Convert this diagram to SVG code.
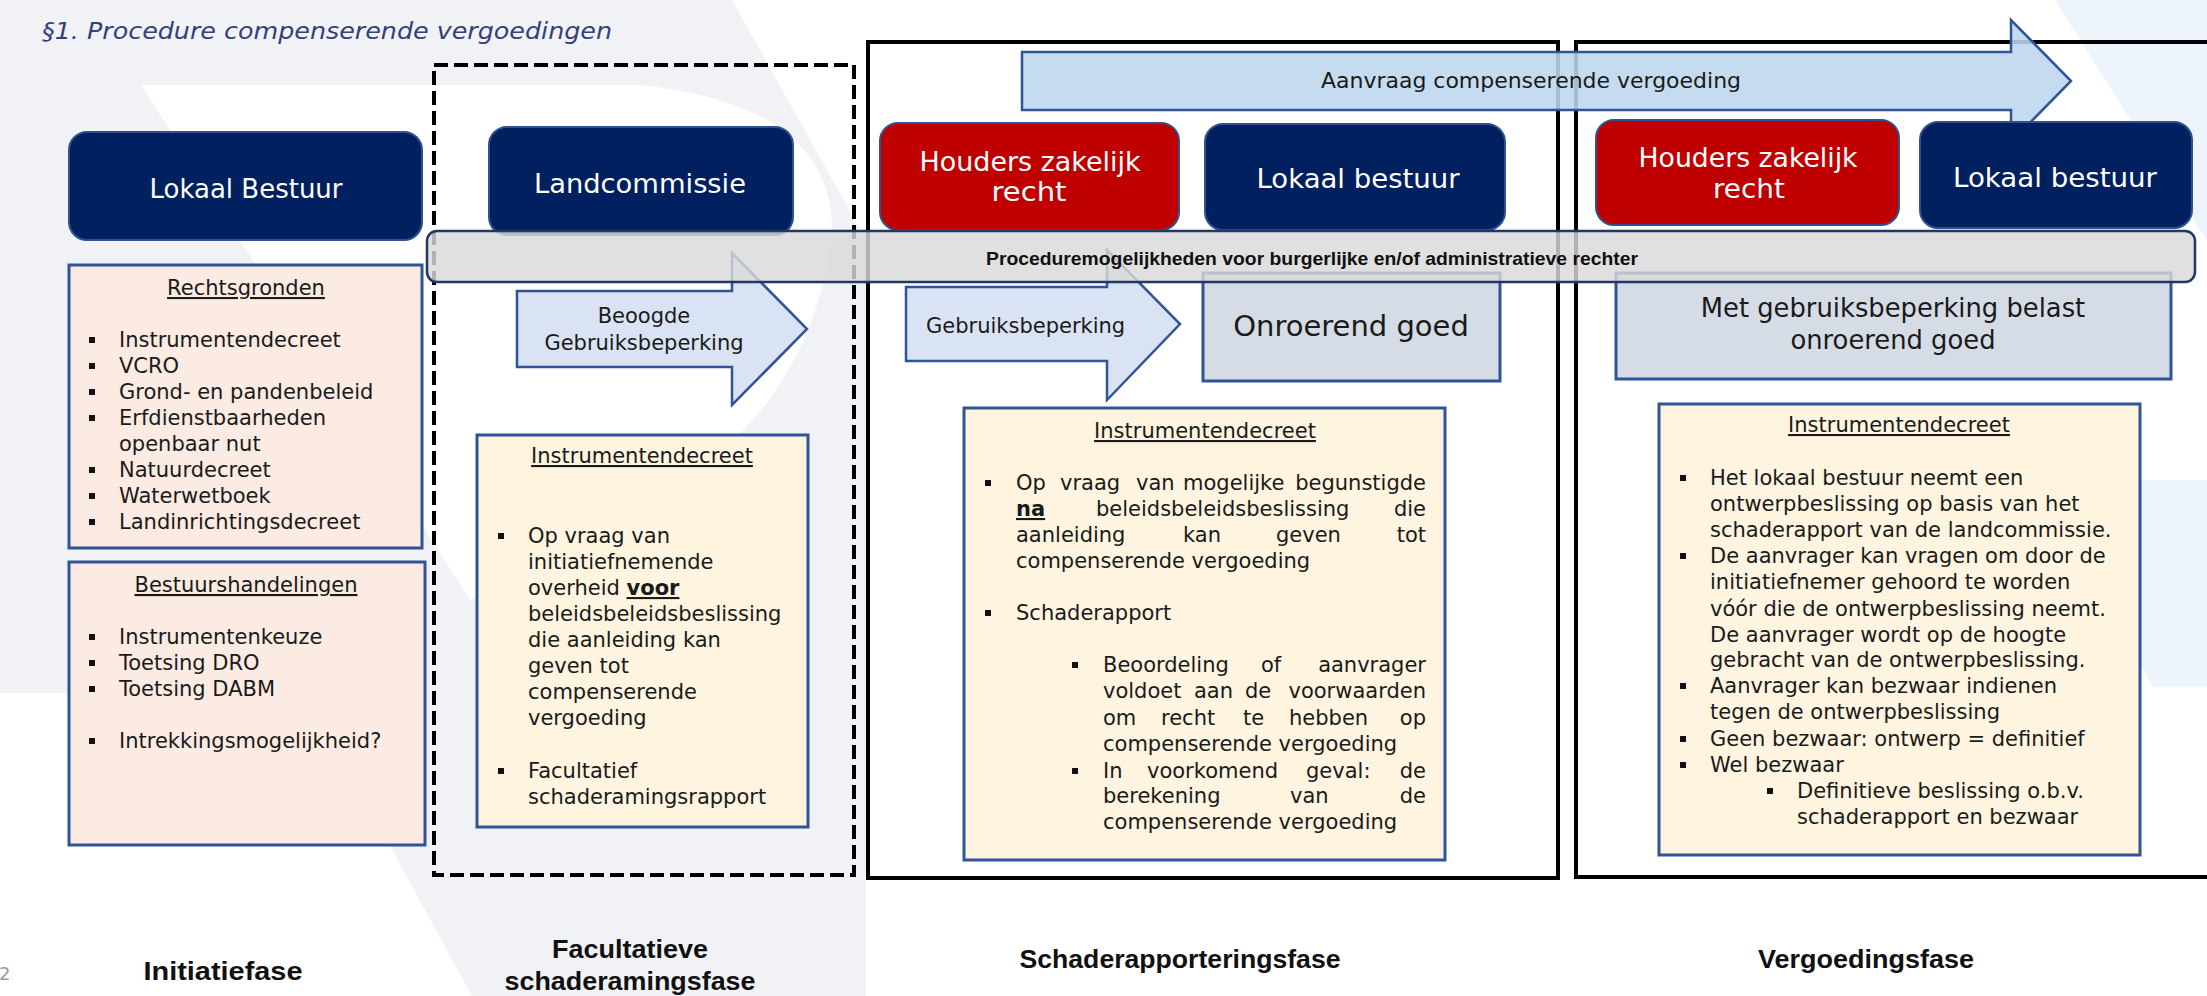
<svg xmlns="http://www.w3.org/2000/svg" width="2207" height="996" viewBox="0 0 2207 996">
<defs>
<style>
.t{font-family:"DejaVu Sans",sans-serif;font-size:21px;fill:#1a1a1a}
.h{font-family:"DejaVu Sans",sans-serif;font-size:21px;fill:#1a1a1a;text-anchor:middle;text-decoration:underline}
.w{font-family:"DejaVu Sans",sans-serif;font-size:26px;fill:#ffffff;text-anchor:middle}
.nv{fill:#002060;stroke:#2f528f;stroke-width:2}
.rd{fill:#c00000;stroke:#2f528f;stroke-width:2}
.pk{fill:#fbebe2;stroke:#2f5597;stroke-width:3}
.cr{fill:#fef4df;stroke:#2f5597;stroke-width:3}
.og{fill:#d6dce5;stroke:#2f5597;stroke-width:3}
.ar{fill:#dae3f3;stroke:#2f5597;stroke-width:2.5}
.ph{font-family:"Liberation Sans",Arial,sans-serif;font-weight:bold;font-size:25px;fill:#111;text-anchor:middle}
.b{fill:#111}
.e{text-anchor:end}
.m{text-anchor:middle}
.bo{font-weight:bold;text-decoration:underline}
.frame{fill:none;stroke:#000;stroke-width:4}
</style>
<clipPath id="pc"><rect x="0" y="950" width="12" height="46"/></clipPath>
</defs>

<g id="watermark">
<rect x="0" y="0" width="2207" height="996" fill="#ffffff"/>
<path d="M0,0 H732 L866,240 V996 H472 L306,693 H0 Z" fill="#f1f2f6"/>
<path d="M141,85 H640 Q835,105 832,235 Q815,380 700,470 Q600,555 470,600 Z" fill="#ffffff"/>
<path d="M2055,0 H2207 V241 Z" fill="#edf4fc"/>
<path d="M2033,480 H2207 V687 H2153 Z" fill="#edf4fc"/>
</g>

<text id="title" x="42" y="39" font-family="DejaVu Sans, sans-serif" font-style="italic" font-size="23" fill="#34407a" textLength="570" lengthAdjust="spacingAndGlyphs">§1. Procedure compenserende vergoedingen</text>

<g id="panels">
<rect class="frame" x="434" y="65" width="420" height="810" stroke-dasharray="14 6"/>
<rect class="frame" x="868" y="42" width="690" height="836"/>
<path class="frame" d="M2212,42 H1576 V877 H2212"/>
</g>

<g id="connectors">
<g id="arrow-aanvraag">
<polygon points="1022,52 2011,52 2011,20 2071,81 2011,142 2011,110 1022,110" fill="#bdd7ee" fill-opacity="0.88" stroke="#2f5597" stroke-width="2.5"/>
<text class="t m" x="1531" y="88" style="font-size:22px" textLength="420" lengthAdjust="spacingAndGlyphs">Aanvraag compenserende vergoeding</text>
</g>
<g id="arrow-beoogde">
<polygon class="ar" points="517,291 732,291 732,253 807,329 732,405 732,367 517,367"/>
<text class="t m" x="644" y="323">Beoogde</text>
<text class="t m" x="644" y="350">Gebruiksbeperking</text>
</g>
<g id="arrow-gebruik">
<polygon class="ar" points="906,287 1107,287 1107,250 1180,324 1107,400 1107,361 906,361"/>
<text class="t" x="926" y="333">Gebruiksbeperking</text>
</g>
</g>

<g id="node-lokaal-bestuur-1">
<rect class="nv" x="69" y="132" width="353" height="108" rx="18"/>
<text class="w" x="246" y="198" textLength="193" lengthAdjust="spacingAndGlyphs">Lokaal Bestuur</text>
</g>
<g id="node-landcommissie">
<rect class="nv" x="489" y="127" width="304" height="108" rx="18"/>
<text class="w" x="640" y="193" textLength="212" lengthAdjust="spacingAndGlyphs">Landcommissie</text>
</g>
<g id="node-houders-3">
<rect class="rd" x="880" y="123" width="299" height="107" rx="18"/>
<text class="w" x="1030" y="171" textLength="221" lengthAdjust="spacingAndGlyphs">Houders zakelijk</text>
<text class="w" x="1029" y="201" textLength="75" lengthAdjust="spacingAndGlyphs">recht</text>
</g>
<g id="node-lokaal-bestuur-3">
<rect class="nv" x="1205" y="124" width="300" height="106" rx="18"/>
<text class="w" x="1358" y="188" textLength="203" lengthAdjust="spacingAndGlyphs">Lokaal bestuur</text>
</g>
<g id="node-houders-4">
<rect class="rd" x="1596" y="120" width="303" height="105" rx="18"/>
<text class="w" x="1748" y="167" textLength="219" lengthAdjust="spacingAndGlyphs">Houders zakelijk</text>
<text class="w" x="1749" y="198" textLength="72" lengthAdjust="spacingAndGlyphs">recht</text>
</g>
<g id="node-lokaal-bestuur-4">
<rect class="nv" x="1920" y="122" width="272" height="106" rx="18"/>
<text class="w" x="2055" y="187" textLength="204" lengthAdjust="spacingAndGlyphs">Lokaal bestuur</text>
</g>

<g id="node-onroerend-goed">
<rect class="og" x="1203" y="273" width="297" height="108"/>
<text class="t m" x="1351" y="336" style="font-size:29px">Onroerend goed</text>
</g>
<g id="node-belast-onroerend-goed">
<rect class="og" x="1616" y="273" width="555" height="106"/>
<text class="t m" x="1893" y="317" style="font-size:25.8px">Met gebruiksbeperking belast</text>
<text class="t m" x="1893" y="349" style="font-size:25.8px">onroerend goed</text>
</g>

<g id="node-rechtsgronden">
<rect class="pk" x="69" y="265" width="353" height="283"/>
<text class="h" x="246" y="295">Rechtsgronden</text>
<rect class="b" x="89" y="337" width="6" height="6"/>
<rect class="b" x="89" y="363" width="6" height="6"/>
<rect class="b" x="89" y="389" width="6" height="6"/>
<rect class="b" x="89" y="415" width="6" height="6"/>
<rect class="b" x="89" y="467" width="6" height="6"/>
<rect class="b" x="89" y="493" width="6" height="6"/>
<rect class="b" x="89" y="519" width="6" height="6"/>
<text class="t" x="119" y="347">Instrumentendecreet</text>
<text class="t" x="119" y="373">VCRO</text>
<text class="t" x="119" y="399">Grond- en pandenbeleid</text>
<text class="t" x="119" y="425">Erfdienstbaarheden</text>
<text class="t" x="119" y="451">openbaar nut</text>
<text class="t" x="119" y="477">Natuurdecreet</text>
<text class="t" x="119" y="503">Waterwetboek</text>
<text class="t" x="119" y="529">Landinrichtingsdecreet</text>
</g>

<g id="node-bestuurshandelingen">
<rect class="pk" x="69" y="562" width="356" height="283"/>
<text class="h" x="246" y="592">Bestuurshandelingen</text>
<rect class="b" x="89" y="634" width="6" height="6"/>
<rect class="b" x="89" y="660" width="6" height="6"/>
<rect class="b" x="89" y="686" width="6" height="6"/>
<rect class="b" x="89" y="738" width="6" height="6"/>
<text class="t" x="119" y="644">Instrumentenkeuze</text>
<text class="t" x="119" y="670">Toetsing DRO</text>
<text class="t" x="119" y="696">Toetsing DABM</text>
<text class="t" x="119" y="748">Intrekkingsmogelijkheid?</text>
</g>

<g id="node-instrumentendecreet-2">
<rect class="cr" x="477" y="435" width="331" height="392"/>
<text class="h" x="642" y="463">Instrumentendecreet</text>
<rect class="b" x="498" y="533" width="6" height="6"/>
<rect class="b" x="498" y="768" width="6" height="6"/>
<text class="t" x="528" y="543">Op vraag van</text>
<text class="t" x="528" y="569">initiatiefnemende</text>
<text class="t" x="528" y="595">overheid <tspan class="bo">voor</tspan></text>
<text class="t" x="528" y="621">beleidsbeleidsbeslissing</text>
<text class="t" x="528" y="647">die aanleiding kan</text>
<text class="t" x="528" y="673">geven tot</text>
<text class="t" x="528" y="699">compenserende</text>
<text class="t" x="528" y="725">vergoeding</text>
<text class="t" x="528" y="778">Facultatief</text>
<text class="t" x="528" y="804">schaderamingsrapport</text>
</g>

<g id="node-instrumentendecreet-3">
<rect class="cr" x="964" y="408" width="481" height="452"/>
<text class="h" x="1205" y="438">Instrumentendecreet</text>
<rect class="b" x="985" y="480" width="6" height="6"/>
<rect class="b" x="985" y="610" width="6" height="6"/>
<rect class="b" x="1072" y="662" width="6" height="6"/>
<rect class="b" x="1072" y="768" width="6" height="6"/>
<text class="t" y="490"><tspan x="1016">Op</tspan><tspan x="1060">vraag</tspan><tspan x="1136">van</tspan><tspan x="1183">mogelijke</tspan></text>
<text class="t e" x="1426" y="490">begunstigde</text>
<text class="t" y="516"><tspan x="1016" class="bo">na</tspan><tspan x="1096">beleidsbeleidsbeslissing</tspan></text>
<text class="t e" x="1426" y="516">die</text>
<text class="t" y="542"><tspan x="1016">aanleiding</tspan><tspan x="1183">kan</tspan><tspan x="1276">geven</tspan></text>
<text class="t e" x="1426" y="542">tot</text>
<text class="t" x="1016" y="568">compenserende vergoeding</text>
<text class="t" x="1016" y="620">Schaderapport</text>
<text class="t" y="672"><tspan x="1103">Beoordeling</tspan><tspan x="1261">of</tspan></text>
<text class="t e" x="1426" y="672">aanvrager</text>
<text class="t" y="698"><tspan x="1103">voldoet</tspan><tspan x="1194">aan</tspan><tspan x="1245">de</tspan></text>
<text class="t e" x="1426" y="698">voorwaarden</text>
<text class="t" y="725"><tspan x="1103">om</tspan><tspan x="1161">recht</tspan><tspan x="1243">te</tspan><tspan x="1289">hebben</tspan></text>
<text class="t e" x="1426" y="725">op</text>
<text class="t" x="1103" y="751">compenserende vergoeding</text>
<text class="t" y="778"><tspan x="1103">In</tspan><tspan x="1147">voorkomend</tspan><tspan x="1306">geval:</tspan></text>
<text class="t e" x="1426" y="778">de</text>
<text class="t" y="803"><tspan x="1103">berekening</tspan><tspan x="1290">van</tspan></text>
<text class="t e" x="1426" y="803">de</text>
<text class="t" x="1103" y="829">compenserende vergoeding</text>
</g>

<g id="node-instrumentendecreet-4">
<rect class="cr" x="1659" y="404" width="481" height="451"/>
<text class="h" x="1899" y="432">Instrumentendecreet</text>
<rect class="b" x="1680" y="475" width="6" height="6"/>
<rect class="b" x="1680" y="553" width="6" height="6"/>
<rect class="b" x="1680" y="683" width="6" height="6"/>
<rect class="b" x="1680" y="736" width="6" height="6"/>
<rect class="b" x="1680" y="762" width="6" height="6"/>
<rect class="b" x="1767" y="788" width="6" height="6"/>
<text class="t" x="1710" y="485">Het lokaal bestuur neemt een</text>
<text class="t" x="1710" y="511">ontwerpbeslissing op basis van het</text>
<text class="t" x="1710" y="537">schaderapport van de landcommissie.</text>
<text class="t" x="1710" y="563">De aanvrager kan vragen om door de</text>
<text class="t" x="1710" y="589">initiatiefnemer gehoord te worden</text>
<text class="t" x="1710" y="616">vóór die de ontwerpbeslissing neemt.</text>
<text class="t" x="1710" y="642">De aanvrager wordt op de hoogte</text>
<text class="t" x="1710" y="667">gebracht van de ontwerpbeslissing.</text>
<text class="t" x="1710" y="693">Aanvrager kan bezwaar indienen</text>
<text class="t" x="1710" y="719">tegen de ontwerpbeslissing</text>
<text class="t" x="1710" y="746">Geen bezwaar: ontwerp = definitief</text>
<text class="t" x="1710" y="772">Wel bezwaar</text>
<text class="t" x="1797" y="798">Definitieve beslissing o.b.v.</text>
<text class="t" x="1797" y="824">schaderapport en bezwaar</text>
</g>

<g id="node-procedure-bar">
<rect x="427" y="231" width="1768" height="51" rx="10" fill="#d9d9d9" fill-opacity="0.82" stroke="#1f3864" stroke-width="2.5"/>
<text x="986" y="265" font-family="Liberation Sans, Arial, sans-serif" font-weight="bold" font-size="18.5" fill="#111" textLength="652" lengthAdjust="spacingAndGlyphs">Proceduremogelijkheden voor burgerlijke en/of administratieve rechter</text>
</g>

<g id="phase-labels">
<text class="ph" x="223" y="980" textLength="159" lengthAdjust="spacingAndGlyphs">Initiatiefase</text>
<text class="ph" x="630" y="958" textLength="156" lengthAdjust="spacingAndGlyphs">Facultatieve</text>
<text class="ph" x="630" y="990" textLength="251" lengthAdjust="spacingAndGlyphs">schaderamingsfase</text>
<text class="ph" x="1180" y="968" textLength="321" lengthAdjust="spacingAndGlyphs">Schaderapporteringsfase</text>
<text class="ph" x="1866" y="968" textLength="216" lengthAdjust="spacingAndGlyphs">Vergoedingsfase</text>
</g>

<text id="page-number" x="-1" y="980" font-family="DejaVu Sans, sans-serif" font-size="18" fill="#9a9a9a" clip-path="url(#pc)">23</text>
</svg>
